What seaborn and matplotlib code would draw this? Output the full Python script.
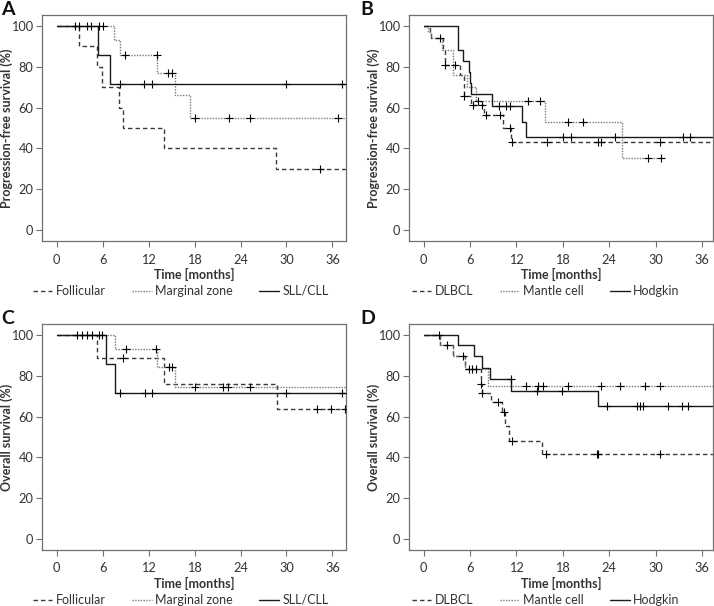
import numpy as np
import pandas as pd
import matplotlib
matplotlib.use("Agg")
import matplotlib.pyplot as plt
import seaborn as sns

# ---------------- data ----------------
# Panel A: progression-free survival, indolent lymphomas
a_labels = ["Follicular", "Marginal zone", "SLL/CLL"]
a_fol_t = [0, 2.9, 5.3, 5.9, 8.1, 8.7, 14.05, 28.6]
a_fol_s = [100, 90, 80, 70, 60, 50, 40, 30]
a_fol_c = [34.4]
a_fol_end = 38.0
a_mz_t = [0, 7.45, 8.2, 13.15, 15.4, 17.45]
a_mz_s = [100, 92.9, 85.7, 77.1, 66.1, 55.1]
a_mz_c = [2.4, 2.95, 3.95, 4.5, 5.5, 6.1, 8.96, 13.05, 14.5, 15.05, 18.05, 22.5, 25.2, 36.7]
a_mz_end = 38.0
a_sll_t = [0, 5.4, 7.0]
a_sll_s = [100, 85.7, 71.4]
a_sll_c = [8.2, 11.4, 12.4, 30.0, 37.2]
a_sll_end = 38.0

# Panel B: progression-free survival, aggressive lymphomas
b_labels = ["DLBCL", "Mantle cell", "Hodgkin"]
b_dl_t = [0, 0.8, 1.0, 2.5, 2.7, 4.7, 5.2, 6.1, 7.8, 10.3, 11.3]
b_dl_s = [100, 97, 94, 88, 81, 76, 65.5, 61.2, 56.3, 49.8, 42.9]
b_dl_c = [2.1, 2.8, 4.1, 5.25, 6.4, 7.5, 8.1, 9.9, 11.2, 11.4, 16.0, 22.6, 23.0, 30.6]
b_dl_end = 38.0
b_mc_t = [0, 0.6, 1.0, 2.4, 3.75, 5.6, 6.8, 15.7, 25.6]
b_mc_s = [100, 97, 94, 88.2, 75.9, 70.2, 63.2, 53.0, 35.0]
b_mc_c = [7.0, 13.45, 15.0, 18.7, 20.6, 29.0, 30.7]
b_mc_end = 31.0
b_hd_t = [0, 4.5, 5.1, 5.8, 5.95, 6.1, 8.9, 12.75, 13.2]
b_hd_s = [100, 88.2, 83.0, 77.5, 72.0, 66.5, 60.7, 53.0, 45.4]
b_hd_c = [9.7, 10.6, 11.2, 18.05, 19.1, 24.7, 33.5, 34.4]
b_hd_end = 38.0

# Panel C: overall survival, indolent lymphomas
c_fol_t = [0, 5.3, 14.0, 28.7]
c_fol_s = [100, 88.9, 76.2, 63.5]
c_fol_c = [8.6, 34.0, 35.8, 37.7]
c_fol_end = 38.0
c_mz_t = [0, 7.6, 13.1, 15.5]
c_mz_s = [100, 92.9, 84.5, 74.3]
c_mz_c = [2.65, 3.3, 3.95, 4.6, 5.5, 5.9, 9.0, 12.9, 14.6, 15.05, 18.0, 21.7, 22.4, 25.2]
c_mz_end = 38.0
c_sll_t = [0, 6.4, 7.55]
c_sll_s = [100, 85.7, 71.4]
c_sll_c = [8.3, 11.5, 12.4, 30.0, 37.2]
c_sll_end = 38.0

# Panel D: overall survival, aggressive lymphomas
d_dl_t = [0, 2.1, 3.85, 5.35, 7.4, 7.55, 8.7, 10.1, 10.5, 11.0, 15.3]
d_dl_s = [100, 95.2, 89.8, 83.3, 76.0, 71.4, 67.0, 62.1, 55.5, 48.0, 41.7]
d_dl_c = [7.45, 7.6, 9.65, 10.4, 11.4, 15.8, 22.4, 22.6, 30.6]
d_dl_end = 38.0
d_mc_t = [0, 2.1, 3.85, 5.35, 8.3]
d_mc_s = [100, 95.2, 89.8, 83.3, 75.0]
d_mc_c = [3.05, 5.1, 5.9, 6.3, 6.8, 13.3, 14.8, 15.5, 18.7, 23.0, 25.4, 28.6, 30.6]
d_mc_end = 38.0
d_hd_t = [0, 4.5, 6.5, 7.5, 8.6, 11.35, 22.6]
d_hd_s = [100, 94.9, 89.7, 84.0, 78.6, 72.5, 65.0]
d_hd_c = [2.0, 11.25, 14.7, 17.9, 23.7, 27.6, 28.0, 28.4, 31.6, 33.4, 34.2]
d_hd_end = 38.0

x_ticks = [0, 6, 12, 18, 24, 30, 36]
y_ticks = [0, 20, 40, 60, 80, 100]

# ---------------- styling ----------------
sns.set_style("ticks")
plt.rcParams["font.family"] = ["Lato", "DejaVu Sans"]

TXT = "#333333"
SPINE = "#707070"
styles = [
    dict(color="#3a3a3a", linestyle=(0, (3.2, 2.2)), lw=1.0),
    dict(color="#7a7a7a", linestyle=(0, (1, 1)), lw=1.0),
    dict(color="#1a1a1a", linestyle="-", lw=1.0),
]

fig = plt.figure(figsize=(7.14, 6.06), dpi=100)
W, H = 714, 606


def px_axes(left, top, right, bottom):
    return fig.add_axes([left / W, 1 - bottom / H, (right - left) / W, (bottom - top) / H])


def draw_panel(ax, series, labels, xlim, ylabel, legend_x):
    for (t, s, c, end), lab, sty in zip(series, labels, styles):
        df = pd.DataFrame({"t": list(t) + [end], "s": list(s) + [s[-1]]})
        sns.lineplot(data=df, x="t", y="s", ax=ax, estimator=None, sort=False,
                     drawstyle="steps-post", label=lab, **sty)
        idx = np.searchsorted(np.asarray(t), np.asarray(c), side="right") - 1
        cv = np.asarray(s)[idx]
        sns.scatterplot(x=c, y=cv, ax=ax, marker="+", s=28, color="black",
                        linewidth=0.8, legend=False, zorder=3)
    ax.set_xlim(*xlim)
    ax.set_ylim(-5.5, 105.4)
    ax.set_xticks(x_ticks)
    ax.set_yticks(y_ticks)
    ax.tick_params(axis="both", length=4.5, width=0.8, color=SPINE,
                   labelsize=9.2, labelcolor=TXT)
    ax.tick_params(axis="x", pad=4.5)
    ax.tick_params(axis="y", pad=1.5)
    for sp in ax.spines.values():
        sp.set_color(SPINE)
        sp.set_linewidth(0.9)
    ax.set_xlabel("Time [months]", fontsize=9, fontweight="bold", color=TXT)
    ax.set_ylabel(ylabel, fontsize=9, fontweight="bold", color=TXT)
    ax.xaxis.set_label_coords(0.5, -0.118)
    ax.yaxis.set_label_coords(-0.093, 0.5)
    handles, labs = ax.get_legend_handles_labels()
    leg = ax.legend(handles, labs, ncol=3, loc="center left",
                    bbox_to_anchor=(legend_x, -0.221), frameon=False,
                    borderpad=0, borderaxespad=0, handlelength=1.55,
                    handletextpad=0.3, columnspacing=2.1, fontsize=9)
    for txt in leg.get_texts():
        txt.set_color(TXT)


axA = px_axes(41.7, 15, 346, 241)
axB = px_axes(408.7, 15, 713, 241)
axC = px_axes(41.7, 324, 346, 550)
axD = px_axes(408.7, 324, 713, 550)

draw_panel(axA, [(a_fol_t, a_fol_s, a_fol_c, a_fol_end),
                 (a_mz_t, a_mz_s, a_mz_c, a_mz_end),
                 (a_sll_t, a_sll_s, a_sll_c, a_sll_end)],
           a_labels, (-1.96, 37.77), "Progression-free survival (%)", -0.0286)
draw_panel(axB, [(b_dl_t, b_dl_s, b_dl_c, b_dl_end),
                 (b_mc_t, b_mc_s, b_mc_c, b_mc_end),
                 (b_hd_t, b_hd_s, b_hd_c, b_hd_end)],
           b_labels, (-1.94, 37.43), "Progression-free survival (%)", 0.011)
draw_panel(axC, [(c_fol_t, c_fol_s, c_fol_c, c_fol_end),
                 (c_mz_t, c_mz_s, c_mz_c, c_mz_end),
                 (c_sll_t, c_sll_s, c_sll_c, c_sll_end)],
           a_labels, (-1.96, 37.77), "Overall survival (%)", -0.0286)
draw_panel(axD, [(d_dl_t, d_dl_s, d_dl_c, d_dl_end),
                 (d_mc_t, d_mc_s, d_mc_c, d_mc_end),
                 (d_hd_t, d_hd_s, d_hd_c, d_hd_end)],
           b_labels, (-1.94, 37.43), "Overall survival (%)", 0.011)

for letter, x, y in [("A", 1, 1), ("B", 360, 1), ("C", 1, 310), ("D", 360, 310)]:
    fig.text(x / W, 1 - y / H, letter, fontsize=14, fontweight="bold",
             color="#111111", ha="left", va="top")

fig.savefig("out.png", dpi=100)
